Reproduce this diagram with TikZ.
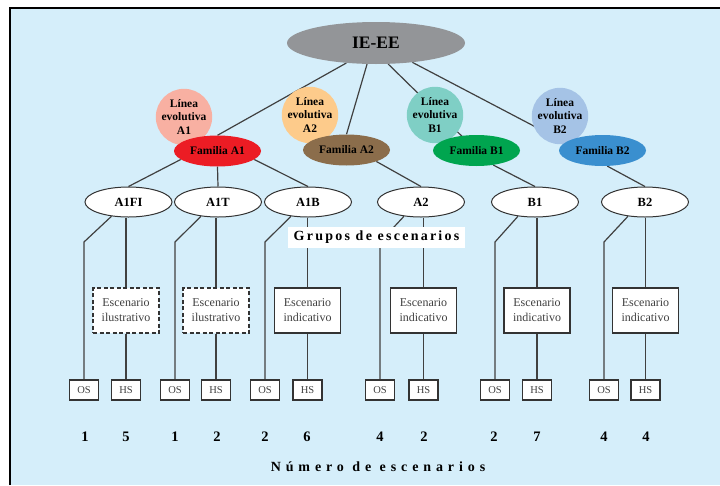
\documentclass[tikz,border=0pt]{standalone}
\usepackage{fontspec}
\setmainfont{Liberation Serif}
\usetikzlibrary{shapes.geometric,calc,backgrounds}
\definecolor{bgblue}{HTML}{D5EEFA}
\definecolor{topgray}{HTML}{939598}
\definecolor{cA1}{HTML}{F8B0A2}
\definecolor{cA2}{HTML}{FDCB8B}
\definecolor{cB1}{HTML}{7FCFC5}
\definecolor{cB2}{HTML}{A5C3E6}
\definecolor{fA1}{HTML}{EC1C24}
\definecolor{fA2}{HTML}{8B6D4B}
\definecolor{fB1}{HTML}{00A54F}
\definecolor{fB2}{HTML}{3A8FCF}
\definecolor{linec}{HTML}{404040}
\pgfdeclarelayer{bgzero}
\pgfsetlayers{bgzero,background,main}
\tikzset{
  conn/.style={draw=linec, line width=1.2pt},
  topn/.style={ellipse, fill=topgray, minimum width=178pt, minimum height=42pt, inner sep=0pt, font=\fontsize{17.5}{19}\selectfont\bfseries},
  circ/.style={circle, minimum size=56pt, inner sep=0pt, align=center, font=\fontsize{11.5}{13.3}\selectfont\bfseries},
  fam/.style={ellipse, minimum width=87pt, minimum height=31pt, inner sep=0pt, font=\fontsize{11.5}{13}\selectfont\bfseries},
  grp/.style={ellipse, draw=black!80, line width=1pt, fill=white, minimum width=87pt, minimum height=30pt, inner sep=0pt, font=\fontsize{12.5}{14}\selectfont\bfseries},
  scbox/.style={rectangle, draw=black!80, line width=1.1pt, fill=white, minimum width=66pt, minimum height=45pt, inner sep=0pt, align=center, font=\fontsize{12}{15}\selectfont, text=black!75},
  dashbox/.style={scbox, dash pattern=on 4pt off 2.5pt},
  smallbox/.style={rectangle, draw=black!80, line width=1.1pt, fill=white, minimum width=29pt, minimum height=20pt, inner sep=0pt, font=\fontsize{10.5}{12}\selectfont, text=black!75},
  num/.style={inner sep=0pt, font=\fontsize{14.5}{16}\selectfont\bfseries}
}
\begin{document}
\begin{tikzpicture}[x=1pt,y=-1pt]
\useasboundingbox (0,0) rectangle (720,485);
\begin{pgfonlayer}{bgzero}
\fill[white] (0,0) rectangle (720,485);
\fill[bgblue] (10,8) rectangle (720,485);
\draw[line width=1.3pt] (10,485) -- (10,8) -- (720,8);
\end{pgfonlayer}

\node[topn] (top) at (376,43) {IE-EE};
\node[circ, fill=cA1] (lA1) at (184,117) {Línea\\evolutiva\\A1};
\node[circ, fill=cA2] (lA2) at (310,115) {Línea\\evolutiva\\A2};
\node[circ, fill=cB1] (lB1) at (435,115) {Línea\\evolutiva\\B1};
\node[circ, fill=cB2] (lB2) at (560,116) {Línea\\evolutiva\\B2};
\node[fam, fill=fA1] (fa1) at (217.5,151) {Familia A1};
\node[fam, fill=fA2] (fa2) at (346.5,150) {Familia A2};
\node[fam, fill=fB1] (fb1) at (476.5,150.5) {Familia B1};
\node[fam, fill=fB2] (fb2) at (602.5,150.5) {Familia B2};

\node[grp] (g1) at (128.5,202) {A1FI};
\node[grp] (g2) at (218,202) {A1T};
\node[grp] (g3) at (308,202) {A1B};
\node[grp] (g4) at (421,202) {A2};
\node[grp] (g5) at (535,202) {B1};
\node[grp] (g6) at (645,202) {B2};

\node[dashbox] (b1) at (126,310.5) {Escenario\\ilustrativo};
\node[dashbox] (b2) at (216,310.5) {Escenario\\ilustrativo};
\node[scbox] (b3) at (307.5,310.5) {Escenario\\indicativo};
\node[scbox] (b4) at (423.5,310.5) {Escenario\\indicativo};
\node[scbox] (b5) at (537,310.5) {Escenario\\indicativo};
\node[scbox] (b6) at (645.5,310.5) {Escenario\\indicativo};

\node[smallbox] (o1) at (84,390) {OS};
\node[smallbox] (o2) at (175,390) {OS};
\node[smallbox] (o3) at (265,390) {OS};
\node[smallbox] (o4) at (380,390) {OS};
\node[smallbox] (o5) at (495,390) {OS};
\node[smallbox] (o6) at (604,390) {OS};
\node[smallbox] (h1) at (126,390) {HS};
\node[smallbox] (h2) at (216,390) {HS};
\node[smallbox] (h3) at (307.5,390) {HS};
\node[smallbox] (h4) at (423.5,390) {HS};
\node[smallbox] (h5) at (537,390) {HS};
\node[smallbox] (h6) at (645.5,390) {HS};

\node[num] (n1) at (85,437) {1};
\node[num] (n2) at (126,437) {5};
\node[num] (n3) at (175,437) {1};
\node[num] (n4) at (217,437) {2};
\node[num] (n5) at (265,437) {2};
\node[num] (n6) at (307,437) {6};
\node[num] (n7) at (380,437) {4};
\node[num] (n8) at (424,437) {2};
\node[num] (n9) at (494,437) {2};
\node[num] (n10) at (537,437) {7};
\node[num] (n11) at (604,437) {4};
\node[num] (n12) at (646,437) {4};

\node[fill=white, minimum width=177pt, minimum height=21pt, inner sep=0pt, font=\fontsize{14}{16}\selectfont\bfseries] (grupos) at (376.5,237.5) {\addfontfeatures{LetterSpace=16}Grupos de escenarios};
\node[inner sep=0pt, font=\fontsize{14}{16}\selectfont\bfseries] (numero) at (378,467) {\addfontfeatures{LetterSpace=35}Número de escenarios};

\coordinate (bend) at (0,242);

\begin{pgfonlayer}{background}
\draw[conn] (top.214) -- (fa1.north);
\draw[conn] (top.247) -- (fa2.north);
\draw[conn] (top.300) -- (fb1.center);
\draw[conn] (top.332) -- ($(fb2.center)+(-22,0)$);
\draw[conn] (fa1.193) -- (g1.north);
\draw[conn] (fa1.south) -- (g2.north);
\draw[conn] (fa1.347) -- (g3.north);
\draw[conn] (fa2.339) -- (g4.north);
\draw[conn] (fb1.319) -- (g5.north);
\draw[conn] (fb2.287) -- (g6.north);
\foreach \i in {1,...,6}{
  \draw[conn] (g\i.220) -- (o\i.north |- bend) -- (o\i.north);
  \draw[conn] (b\i.north |- g\i.south) -- (b\i.north);
  \draw[conn] (b\i.south) -- (h\i.north);
}
\end{pgfonlayer}
\end{tikzpicture}
\end{document}
